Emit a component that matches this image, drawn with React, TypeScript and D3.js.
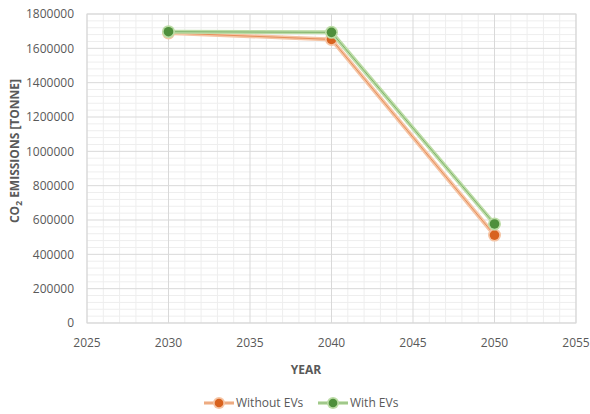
import React from 'react';
import * as d3 from 'd3';

// values
const years = [2030, 2040, 2050];
const withoutEVs = [1690000, 1652000, 512000];
const withEVs = [1697000, 1693000, 577000];
const xTicks = [2025, 2030, 2035, 2040, 2045, 2050, 2055];
const yTicks = [0, 200000, 400000, 600000, 800000, 1000000, 1200000, 1400000, 1600000, 1800000];
const seriesNames = ['Without EVs', 'With EVs'];

const W = 590;
const H = 414;
const margin = { top: 14, right: 14, bottom: 91, left: 87 };
const FONT = '"Open Sans", "Noto Sans", sans-serif';

const series = [
  { name: seriesNames[0], values: withoutEVs, dark: '#d8621e', light: '#f5c4a4' },
  { name: seriesNames[1], values: withEVs, dark: '#4f8f3c', light: '#bcdca6' },
];

export default function App() {
  const x = d3.scaleLinear().domain([2025, 2055]).range([margin.left, W - margin.right]);
  const y = d3.scaleLinear().domain([0, 1800000]).range([H - margin.bottom, margin.top]);

  const minorX = d3.range(2025, 2056, 1).filter((v) => v % 5 !== 0);
  const minorY = d3.range(0, 1800001, 40000).filter((v) => v % 200000 !== 0);

  const line = d3
    .line<number>()
    .x((_, i) => x(years[i]))
    .y((d) => y(d));

  const [x0, x1] = x.range();
  const [y0, y1] = y.range();

  return (
    <div style={{ position: 'absolute', left: 0, top: 0 }}>
      <svg width={W} height={H} style={{ display: 'block', background: '#fff', fontFamily: FONT }}>
        {/* minor grid */}
        {minorX.map((v) => (
          <line key={'mx' + v} x1={x(v)} x2={x(v)} y1={y1} y2={y0} stroke="#eeeeee" strokeWidth={1} />
        ))}
        {minorY.map((v) => (
          <line key={'my' + v} x1={x0} x2={x1} y1={y(v)} y2={y(v)} stroke="#eeeeee" strokeWidth={1} />
        ))}
        {/* major grid */}
        {xTicks.map((v) => (
          <line key={'gx' + v} x1={x(v)} x2={x(v)} y1={y1} y2={y0} stroke="#d9d9d9" strokeWidth={1} />
        ))}
        {yTicks.map((v) => (
          <line key={'gy' + v} x1={x0} x2={x1} y1={y(v)} y2={y(v)} stroke="#d9d9d9" strokeWidth={1} />
        ))}
        <rect x={x0} y={y1} width={x1 - x0} height={y0 - y1} fill="none" stroke="#d9d9d9" />

        {/* tick labels */}
        {yTicks.map((v) => (
          <text key={'ty' + v} x={x0 - 13} y={y(v)} dy="0.35em" textAnchor="end" fontSize={12} fill="#595959">
            {v}
          </text>
        ))}
        {xTicks.map((v) => (
          <text key={'tx' + v} x={x(v)} y={y0 + 24} textAnchor="middle" fontSize={12} fill="#595959">
            {v}
          </text>
        ))}

        {/* axis titles */}
        <text
          transform={`translate(15,151) rotate(-90)`}
          textAnchor="middle"
          dy="0.35em"
          fontSize={12}
          fontWeight="bold"
          fill="#595959"
        >
          CO<tspan fontSize={8.5} dy="3">2</tspan>
          <tspan dy="-3"> EMISSIONS [TONNE]</tspan>
        </text>
        <text x={306} y={370} dy="0.35em" textAnchor="middle" fontSize={12} fontWeight="bold" fill="#595959">
          YEAR
        </text>

        {/* series */}
        {series.map((s) => (
          <g key={s.name}>
            <path d={line(s.values) || ''} fill="none" stroke={s.light} strokeWidth={4} />
            <path d={line(s.values) || ''} fill="none" stroke={s.dark} strokeWidth={1} opacity={0.55} />
            {s.values.map((v, i) => (
              <g key={i}>
                <circle cx={x(years[i])} cy={y(v)} r={6.5} fill={s.light} />
                <circle cx={x(years[i])} cy={y(v)} r={4.8} fill={s.dark} />
              </g>
            ))}
          </g>
        ))}

        {/* legend */}
        {series.map((s, i) => {
          const cx = i === 0 ? 219 : 333;
          const cy = 403;
          return (
            <g key={'lg' + s.name}>
              <line x1={cx - 15} x2={cx + 15} y1={cy} y2={cy} stroke={s.light} strokeWidth={3.5} />
              <line x1={cx - 15} x2={cx + 15} y1={cy} y2={cy} stroke={s.dark} strokeWidth={1} opacity={0.5} />
              <circle cx={cx} cy={cy} r={6} fill={s.light} />
              <circle cx={cx} cy={cy} r={4.3} fill={s.dark} />
              <text x={cx + 17} y={cy} dy="0.35em" fontSize={12} fill="#595959">
                {s.name}
              </text>
            </g>
          );
        })}
      </svg>
    </div>
  );
}
